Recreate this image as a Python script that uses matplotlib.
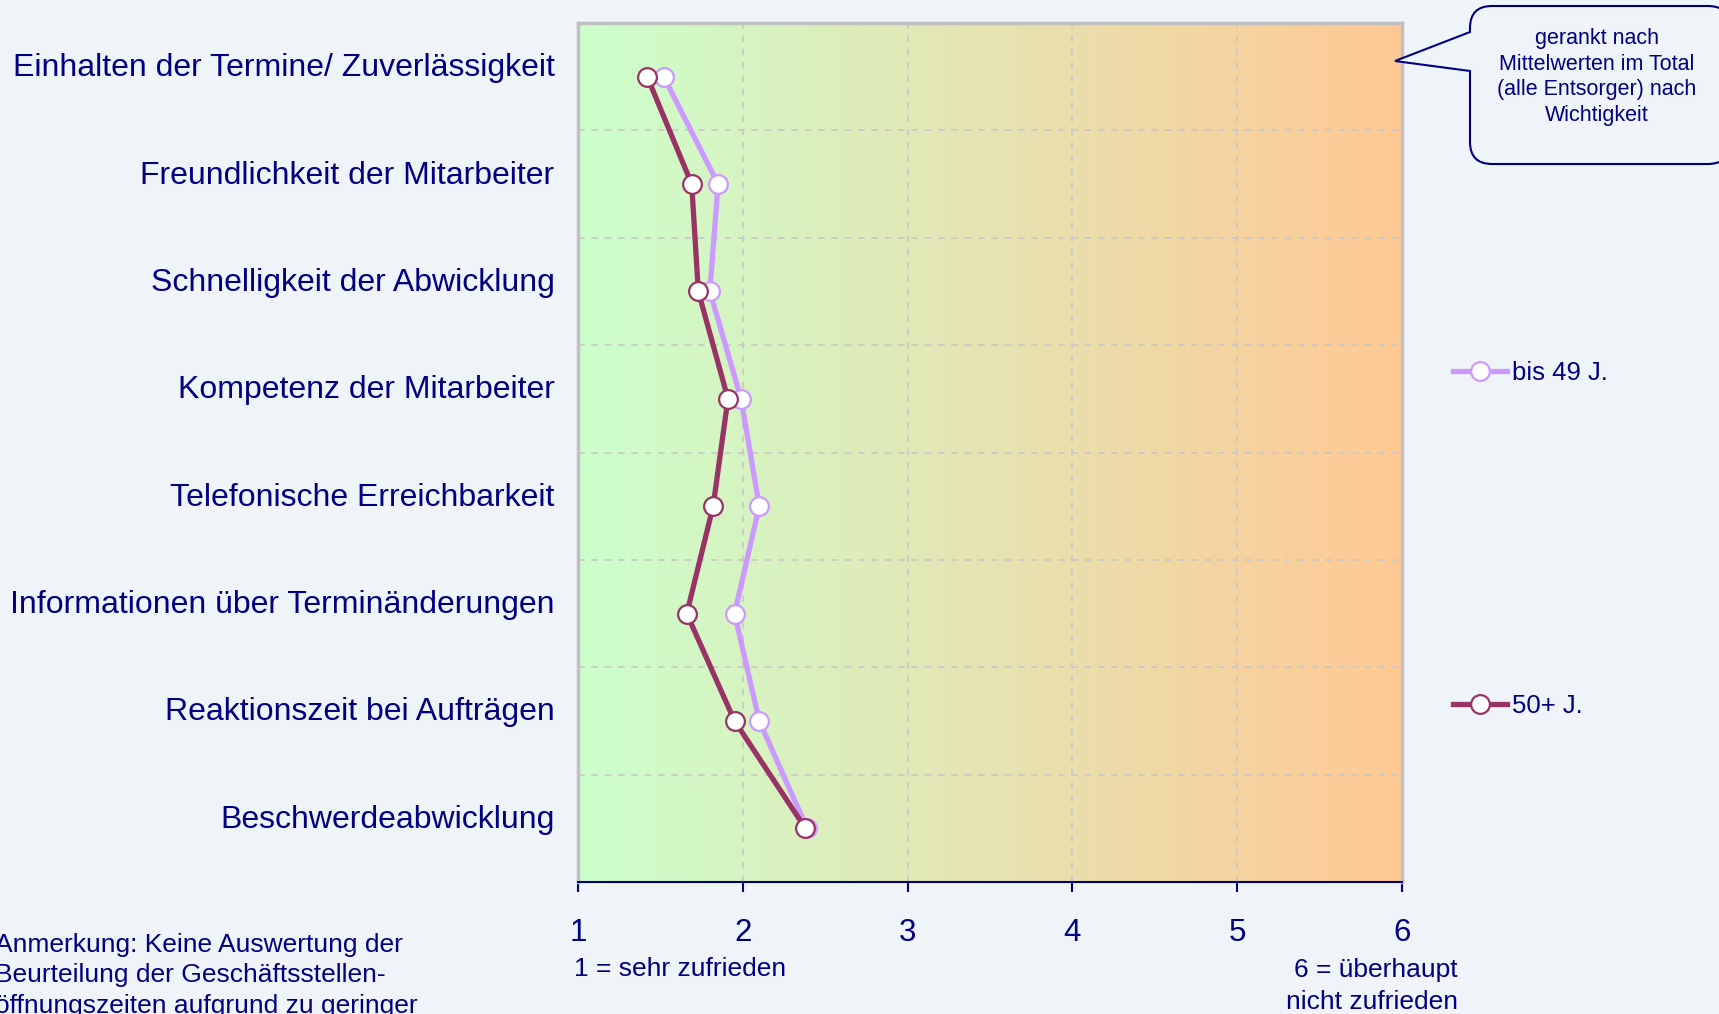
import numpy as np
import matplotlib
matplotlib.use("Agg")
from matplotlib import pyplot as plt
from matplotlib.colors import LinearSegmentedColormap
from matplotlib.path import Path
from matplotlib.patches import PathPatch
from matplotlib.transforms import ScaledTranslation

categories = ["Einhalten der Termine/ Zuverlässigkeit",
              "Freundlichkeit der Mitarbeiter",
              "Schnelligkeit der Abwicklung",
              "Kompetenz der Mitarbeiter",
              "Telefonische Erreichbarkeit",
              "Informationen über Terminänderungen",
              "Reaktionszeit bei Aufträgen",
              "Beschwerdeabwicklung"]
bis_49 = [1.52, 1.85, 1.80, 1.99, 2.10, 1.95, 2.10, 2.39]
ab_50 = [1.42, 1.69, 1.73, 1.91, 1.82, 1.66, 1.95, 2.38]
xticks = [1, 2, 3, 4, 5, 6]

W, H = 1719, 1014
navy = "#000080"
bg = "#eef4f8"
plt.rcParams['font.family'] = ['Liberation Sans', 'DejaVu Sans']

def fx(px):
    return px / W

def fy(py):
    return 1 - py / H

fig = plt.figure(figsize=(W / 100, H / 100), dpi=100, facecolor=bg)
ax = fig.add_axes([fx(578), fy(882), fx(1402) - fx(578), fy(23) - fy(882)])

y = np.arange(len(categories))

# gradient background green -> orange
cmap = LinearSegmentedColormap.from_list("bgr", ["#ccffcc", "#e6e4b2", "#ffc894"])
ax.imshow(np.linspace(0, 1, 256)[None, :], cmap=cmap, aspect='auto',
          extent=[1, 6, len(categories) - 0.5, -0.5], zorder=0)

ax.plot(bis_49, y, color="#cc99ff", lw=3.8, marker='o', ms=13.5,
        mfc='white', mec="#cc99ff", mew=1.6, label="bis 49 J.", zorder=3)
ax.plot(ab_50, y, color="#993366", lw=3.8, marker='o', ms=13.5,
        mfc='white', mec="#993366", mew=1.6, label="50+ J.", zorder=4)

ax.set_xlim(1, 6)
ax.set_ylim(len(categories) - 0.5, -0.5)
ax.set_xticks(xticks)
ax.set_xticklabels([str(t) for t in xticks])
ax.set_yticks(y)
ax.set_yticklabels(categories)
ax.set_yticks(y[:-1] + 0.5, minor=True)

ax.tick_params(axis='y', which='both', length=0, pad=17, labelsize=23, labelcolor=navy)
ax.tick_params(axis='x', length=7, width=1.5, color=navy, pad=19, labelsize=22.5, labelcolor=navy)

# category labels sit a bit above the row centre
shift = ScaledTranslation(0, 0.12, fig.dpi_scale_trans)
for lab in ax.get_yticklabels():
    lab.set_transform(lab.get_transform() + shift)

ax.grid(axis='x', which='major', color='#c8c8c8', ls=(0, (4, 4)), lw=1.2)
ax.grid(axis='y', which='minor', color='#c8c8c8', ls=(0, (4, 4)), lw=1.2)

for s in ['top', 'left', 'right']:
    ax.spines[s].set_color('#c0c0c0')
    ax.spines[s].set_linewidth(2.5)
ax.spines['bottom'].set_color(navy)
ax.spines['bottom'].set_linewidth(1.5)

# legend
ax.legend(loc='upper left', bbox_to_anchor=(fx(1440), fy(348)),
          bbox_transform=fig.transFigure, frameon=False, fontsize=18.5,
          labelcolor=navy, handlelength=2.1, handletextpad=0.2,
          labelspacing=12.02, borderpad=0)

# callout box
x0, x1, t, b, r = fx(1470), fx(1730), fy(6), fy(164), 22
rx, ry = r / W, r / H
verts = [(fx(1395), fy(61)), (x0, fy(71)),
         (x0, b + ry), (x0, b), (x0 + rx, b),
         (x1 - rx, b), (x1, b), (x1, b + ry),
         (x1, t - ry), (x1, t), (x1 - rx, t),
         (x0 + rx, t), (x0, t), (x0, t - ry),
         (x0, fy(32)), (fx(1395), fy(61))]
codes = [Path.MOVETO, Path.LINETO,
         Path.LINETO, Path.CURVE3, Path.CURVE3,
         Path.LINETO, Path.CURVE3, Path.CURVE3,
         Path.LINETO, Path.CURVE3, Path.CURVE3,
         Path.LINETO, Path.CURVE3, Path.CURVE3,
         Path.LINETO, Path.CLOSEPOLY]
fig.add_artist(PathPatch(Path(verts, codes), transform=fig.transFigure,
                         facecolor=bg, edgecolor=navy, lw=1.5))
fig.text(fx(1597), fy(77), "gerankt nach\nMittelwerten im Total\n(alle Entsorger) nach\nWichtigkeit",
         ha='center', va='center', fontsize=15.5, color=navy, linespacing=1.3)

# scale descriptions
fig.text(fx(574), fy(969), "1 = sehr zufrieden", ha='left', va='center',
         fontsize=19, color=navy)
fig.text(fx(1458), fy(986), "6 = überhaupt\nnicht zufrieden", ha='right', va='center',
         fontsize=19, color=navy, multialignment='right', linespacing=1.38)

fig.text(fx(-5), fy(933), "Anmerkung: Keine Auswertung der\nBeurteilung der Geschäftsstellen-\nöffnungszeiten aufgrund zu geringer",
         ha='left', va='top', fontsize=19, color=navy, linespacing=1.34)

fig.savefig("out.png", dpi=100, facecolor=bg)
